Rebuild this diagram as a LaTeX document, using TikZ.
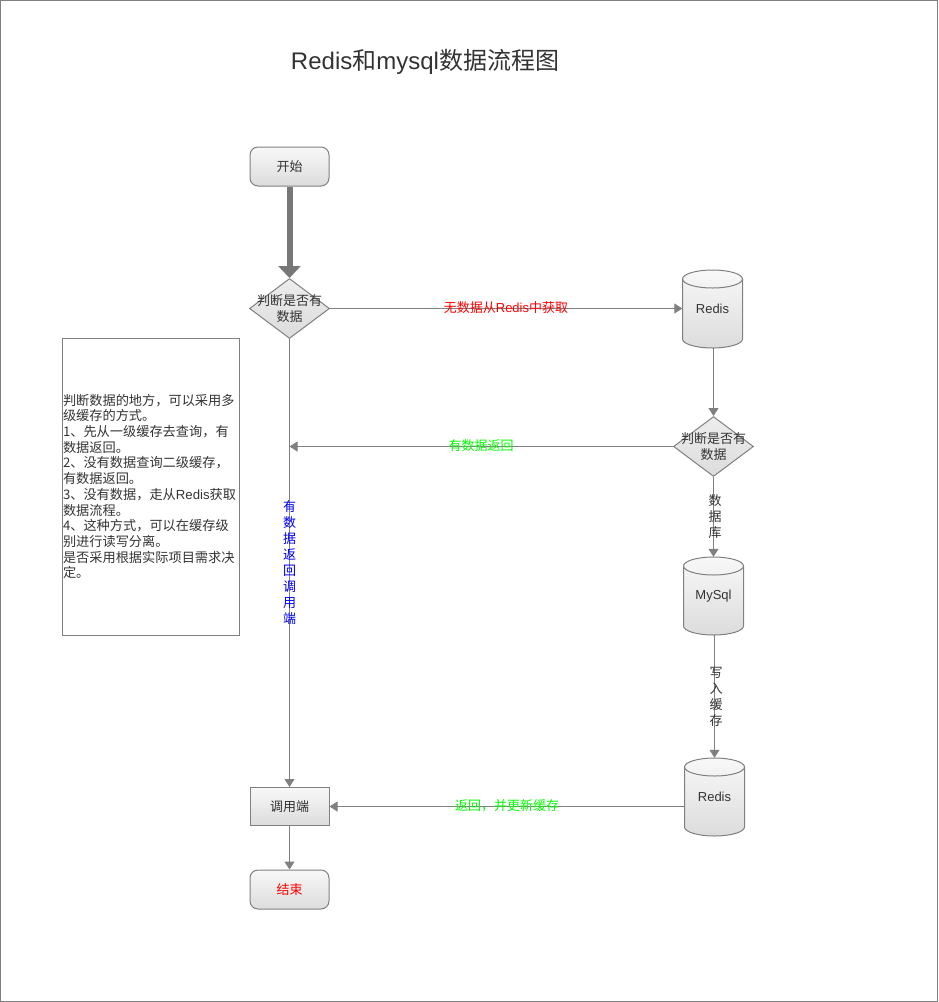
\documentclass[tikz,border=0pt]{standalone}
\usepackage{fontspec}
\setmainfont{Noto Sans CJK SC}
\newfontfamily\lat{Liberation Sans}
\usetikzlibrary{arrows.meta,shapes.geometric}
\definecolor{lg}{HTML}{808080}
\definecolor{tx}{HTML}{333333}
\definecolor{fillb}{HTML}{DCDCDC}
\definecolor{fillt}{HTML}{F8F8F8}
\definecolor{thickc}{HTML}{777777}
\definecolor{gr}{HTML}{00FF00}
\newcommand\cylshape[2]{%
  \path[draw=lg, line width=1pt, top color=fillt, bottom color=fillb]
    (#1-30,#2-30) -- (#1-30,#2+30) arc (180:0:30 and 9) -- (#1+30,#2-30) arc (0:-180:30 and 9) -- cycle;
  \draw[lg, line width=1pt] (#1-30,#2-30) arc (180:0:30 and 9);}
\begin{document}
\begin{tikzpicture}[x=1pt,y=-1pt,
  every node/.style={font=\fontsize{13}{16}\selectfont, text=tx},
  lbl/.style={inner sep=0pt, align=center},
  startend/.style={draw=lg, line width=1pt, rounded corners=8pt, minimum width=79pt, minimum height=39pt, top color=fillt, bottom color=fillb, inner sep=0pt},
  proc/.style={draw=lg, line width=1pt, minimum width=79pt, minimum height=38pt, top color=fillt, bottom color=fillb, inner sep=0pt},
  dec/.style={diamond, draw=lg, line width=1pt, top color=fillt!60!fillb, bottom color=fillb, minimum width=80pt, minimum height=60pt, inner sep=0pt},
  cylbox/.style={minimum width=60pt, minimum height=78pt, inner sep=0pt},
  conn/.style={draw=lg, line width=1pt, -{Triangle[width=10pt,length=8pt]}},
]
\useasboundingbox (0,0) rectangle (938,1002);
\draw[lg, line width=1pt] (0.5,0.5) rectangle (937.5,1001.5);

\node (title) at (425,62) {\fontsize{24}{28}\selectfont{\lat Redis}和{\lat mysql}数据流程图};

\node[startend] (start) at (289.5,166.5) {开始};
\node[dec] (d1) at (289.5,308.5) {};
\node[lbl] (d1t) at (d1.center) {判断是否有\\数据};

\cylshape{712.5}{309}
\node[cylbox] (redis1) at (712.5,309) {\lat Redis};

\node[dec] (d2) at (713.5,446.5) {};
\node[lbl] (d2t) at (d2.center) {判断是否有\\数据};

\cylshape{713.5}{596}
\node[cylbox] (mysql) at (713.5,596) {\lat MySql};

\cylshape{714.5}{797}
\node[cylbox] (redis2) at (714.5,797) {\lat Redis};

\node[proc] (call) at (289.5,806.5) {调用端};
\node[startend, text=red] (end) at (289.5,889.5) {结束};

\node[draw=lg, line width=1pt, minimum width=177pt, minimum height=297pt, text width=175pt, align=left, inner xsep=1pt, inner ysep=0pt, font=\fontsize{13.2}{15.7}\selectfont] (note) at (150.5,486.5)
{判断数据的地方，可以采用多\\级缓存的方式。\\1、先从一级缓存去查询，有\\数据返回。\\2、没有数据查询二级缓存，\\有数据返回。\\3、没有数据，走从{\lat Redis}获取\\数据流程。\\4、这种方式，可以在缓存级\\别进行读写分离。\\是否采用根据实际项目需求决\\定。};

% connectors
\draw[draw=thickc, line width=6pt, -{Triangle[width=22pt,length=12pt]}] (start.south) -- (d1.north);
\draw[conn] (d1.east) -- (d1.east -| redis1.west);
\draw[conn] (d2.north |- redis1.south) -- (d2.north);
\draw[conn] (d2.west) -- (d2.west -| d1.south);
\draw[conn] (d1.south) -- (call.north);
\draw[conn] (d2.south) -- (d2.south |- mysql.north);
\draw[conn] (redis2.north |- mysql.south) -- (redis2.north);
\draw[conn] (redis2.west |- call.east) -- (call.east);
\draw[conn] (call.south) -- (end.north);

% labels
\node[lbl, text=red] (l1) at (506,308) {无数据从{\lat Redis}中获取};
\node[lbl, text=gr] (l2) at (481,446) {有数据返回};
\node[lbl, text=gr] (l3) at (507,806) {返回，并更新缓存};
\node[lbl, text=blue] (l4) at (289.5,562.5) {有\\数\\据\\返\\回\\调\\用\\端};
\node[lbl] (l5) at (715,517) {数\\据\\库};
\node[lbl] (l6) at (716,697) {写\\入\\缓\\存};
\end{tikzpicture}
\end{document}
